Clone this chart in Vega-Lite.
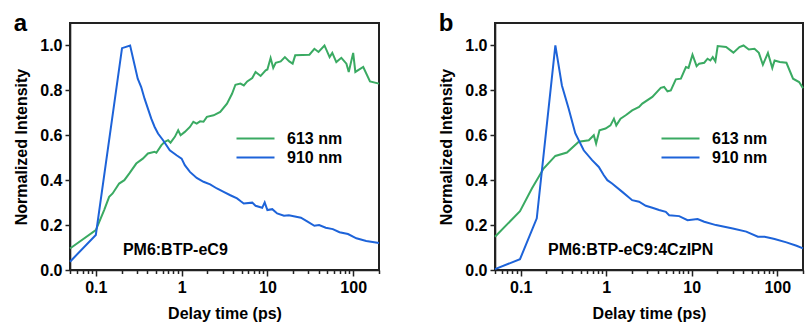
{
  "$schema": "https://vega.github.io/schema/vega-lite/v6.json",
  "background": "white",
  "padding": {"left": 12, "top": 11, "right": 6, "bottom": 4},
  "spacing": 53,
  "datasets": {
    "a": [
      {"series": "613 nm", "t": 0.05, "v": 0.096}, {"series": "613 nm", "t": 0.1, "v": 0.178}, {"series": "613 nm", "t": 0.125, "v": 0.267}, {"series": "613 nm", "t": 0.143, "v": 0.326}, {"series": "613 nm", "t": 0.157, "v": 0.341}, {"series": "613 nm", "t": 0.187, "v": 0.385}, {"series": "613 nm", "t": 0.215, "v": 0.4}, {"series": "613 nm", "t": 0.246, "v": 0.43}, {"series": "613 nm", "t": 0.296, "v": 0.474}, {"series": "613 nm", "t": 0.353, "v": 0.496}, {"series": "613 nm", "t": 0.405, "v": 0.519}, {"series": "613 nm", "t": 0.485, "v": 0.526}, {"series": "613 nm", "t": 0.508, "v": 0.522}, {"series": "613 nm", "t": 0.582, "v": 0.556}, {"series": "613 nm", "t": 0.637, "v": 0.571}, {"series": "613 nm", "t": 0.696, "v": 0.578}, {"series": "613 nm", "t": 0.743, "v": 0.567}, {"series": "613 nm", "t": 0.834, "v": 0.593}, {"series": "613 nm", "t": 0.912, "v": 0.622}, {"series": "613 nm", "t": 0.973, "v": 0.6}, {"series": "613 nm", "t": 1.09, "v": 0.615}, {"series": "613 nm", "t": 1.25, "v": 0.637}, {"series": "613 nm", "t": 1.37, "v": 0.66}, {"series": "613 nm", "t": 1.5, "v": 0.652}, {"series": "613 nm", "t": 1.64, "v": 0.662}, {"series": "613 nm", "t": 1.8, "v": 0.66}, {"series": "613 nm", "t": 1.97, "v": 0.682}, {"series": "613 nm", "t": 2.36, "v": 0.689}, {"series": "613 nm", "t": 2.82, "v": 0.704}, {"series": "613 nm", "t": 3.38, "v": 0.741}, {"series": "613 nm", "t": 3.87, "v": 0.785}, {"series": "613 nm", "t": 4.24, "v": 0.825}, {"series": "613 nm", "t": 4.85, "v": 0.83}, {"series": "613 nm", "t": 5.31, "v": 0.822}, {"series": "613 nm", "t": 5.82, "v": 0.84}, {"series": "613 nm", "t": 6.66, "v": 0.855}, {"series": "613 nm", "t": 7.28, "v": 0.882}, {"series": "613 nm", "t": 8.34, "v": 0.864}, {"series": "613 nm", "t": 9.55, "v": 0.889}, {"series": "613 nm", "t": 10.0, "v": 0.893}, {"series": "613 nm", "t": 10.9, "v": 0.944}, {"series": "613 nm", "t": 11.7, "v": 0.9}, {"series": "613 nm", "t": 12.5, "v": 0.923}, {"series": "613 nm", "t": 14.3, "v": 0.929}, {"series": "613 nm", "t": 16.0, "v": 0.948}, {"series": "613 nm", "t": 18.0, "v": 0.929}, {"series": "613 nm", "t": 19.7, "v": 0.919}, {"series": "613 nm", "t": 21.1, "v": 0.956}, {"series": "613 nm", "t": 30.9, "v": 0.959}, {"series": "613 nm", "t": 35.3, "v": 0.985}, {"series": "613 nm", "t": 39.4, "v": 0.971}, {"series": "613 nm", "t": 46.3, "v": 1.0}, {"series": "613 nm", "t": 53.1, "v": 0.948}, {"series": "613 nm", "t": 57.1, "v": 0.967}, {"series": "613 nm", "t": 63.6, "v": 0.926}, {"series": "613 nm", "t": 72.8, "v": 0.945}, {"series": "613 nm", "t": 83.4, "v": 0.919}, {"series": "613 nm", "t": 88.8, "v": 0.882}, {"series": "613 nm", "t": 100, "v": 0.967}, {"series": "613 nm", "t": 106, "v": 0.882}, {"series": "613 nm", "t": 131, "v": 0.904}, {"series": "613 nm", "t": 157, "v": 0.84}, {"series": "613 nm", "t": 200, "v": 0.83},
      {"series": "910 nm", "t": 0.05, "v": 0.037}, {"series": "910 nm", "t": 0.1, "v": 0.156}, {"series": "910 nm", "t": 0.202, "v": 0.988}, {"series": "910 nm", "t": 0.251, "v": 1.0}, {"series": "910 nm", "t": 0.308, "v": 0.852}, {"series": "910 nm", "t": 0.338, "v": 0.815}, {"series": "910 nm", "t": 0.37, "v": 0.763}, {"series": "910 nm", "t": 0.443, "v": 0.674}, {"series": "910 nm", "t": 0.485, "v": 0.637}, {"series": "910 nm", "t": 0.531, "v": 0.608}, {"series": "910 nm", "t": 0.608, "v": 0.578}, {"series": "910 nm", "t": 0.728, "v": 0.533}, {"series": "910 nm", "t": 0.873, "v": 0.511}, {"series": "910 nm", "t": 1.0, "v": 0.496}, {"series": "910 nm", "t": 1.09, "v": 0.467}, {"series": "910 nm", "t": 1.25, "v": 0.437}, {"series": "910 nm", "t": 1.5, "v": 0.41}, {"series": "910 nm", "t": 1.8, "v": 0.393}, {"series": "910 nm", "t": 2.15, "v": 0.381}, {"series": "910 nm", "t": 2.58, "v": 0.363}, {"series": "910 nm", "t": 3.09, "v": 0.348}, {"series": "910 nm", "t": 3.7, "v": 0.333}, {"series": "910 nm", "t": 4.43, "v": 0.319}, {"series": "910 nm", "t": 4.85, "v": 0.307}, {"series": "910 nm", "t": 5.3, "v": 0.296}, {"series": "910 nm", "t": 6.66, "v": 0.3}, {"series": "910 nm", "t": 7.28, "v": 0.286}, {"series": "910 nm", "t": 8.7, "v": 0.277}, {"series": "910 nm", "t": 9.3, "v": 0.301}, {"series": "910 nm", "t": 10.0, "v": 0.267}, {"series": "910 nm", "t": 11.4, "v": 0.271}, {"series": "910 nm", "t": 13.0, "v": 0.252}, {"series": "910 nm", "t": 15.6, "v": 0.242}, {"series": "910 nm", "t": 17.8, "v": 0.244}, {"series": "910 nm", "t": 24.6, "v": 0.233}, {"series": "910 nm", "t": 29.4, "v": 0.215}, {"series": "910 nm", "t": 35.3, "v": 0.197}, {"series": "910 nm", "t": 40.1, "v": 0.2}, {"series": "910 nm", "t": 47.9, "v": 0.188}, {"series": "910 nm", "t": 57.9, "v": 0.182}, {"series": "910 nm", "t": 69.3, "v": 0.168}, {"series": "910 nm", "t": 87, "v": 0.16}, {"series": "910 nm", "t": 109, "v": 0.141}, {"series": "910 nm", "t": 142, "v": 0.129}, {"series": "910 nm", "t": 200, "v": 0.12}
    ],
    "b": [
      {"series": "613 nm", "t": 0.05, "v": 0.148}, {"series": "613 nm", "t": 0.098, "v": 0.262}, {"series": "613 nm", "t": 0.135, "v": 0.363}, {"series": "613 nm", "t": 0.185, "v": 0.452}, {"series": "613 nm", "t": 0.254, "v": 0.508}, {"series": "613 nm", "t": 0.347, "v": 0.523}, {"series": "613 nm", "t": 0.477, "v": 0.571}, {"series": "613 nm", "t": 0.625, "v": 0.578}, {"series": "613 nm", "t": 0.715, "v": 0.6}, {"series": "613 nm", "t": 0.761, "v": 0.563}, {"series": "613 nm", "t": 0.834, "v": 0.622}, {"series": "613 nm", "t": 0.981, "v": 0.63}, {"series": "613 nm", "t": 1.12, "v": 0.644}, {"series": "613 nm", "t": 1.23, "v": 0.674}, {"series": "613 nm", "t": 1.31, "v": 0.644}, {"series": "613 nm", "t": 1.47, "v": 0.674}, {"series": "613 nm", "t": 1.69, "v": 0.689}, {"series": "613 nm", "t": 2.01, "v": 0.711}, {"series": "613 nm", "t": 2.42, "v": 0.726}, {"series": "613 nm", "t": 2.64, "v": 0.741}, {"series": "613 nm", "t": 3.46, "v": 0.771}, {"series": "613 nm", "t": 4.34, "v": 0.811}, {"series": "613 nm", "t": 4.75, "v": 0.815}, {"series": "613 nm", "t": 5.2, "v": 0.796}, {"series": "613 nm", "t": 5.69, "v": 0.8}, {"series": "613 nm", "t": 6.51, "v": 0.849}, {"series": "613 nm", "t": 7.46, "v": 0.852}, {"series": "613 nm", "t": 8.55, "v": 0.904}, {"series": "613 nm", "t": 9.17, "v": 0.9}, {"series": "613 nm", "t": 10.2, "v": 0.959}, {"series": "613 nm", "t": 11.4, "v": 0.908}, {"series": "613 nm", "t": 12.2, "v": 0.919}, {"series": "613 nm", "t": 14.0, "v": 0.923}, {"series": "613 nm", "t": 15.3, "v": 0.941}, {"series": "613 nm", "t": 16.5, "v": 0.933}, {"series": "613 nm", "t": 17.6, "v": 0.948}, {"series": "613 nm", "t": 18.9, "v": 0.929}, {"series": "613 nm", "t": 20.1, "v": 0.997}, {"series": "613 nm", "t": 25.2, "v": 0.993}, {"series": "613 nm", "t": 30.7, "v": 0.968}, {"series": "613 nm", "t": 36.1, "v": 0.993}, {"series": "613 nm", "t": 40.3, "v": 1.0}, {"series": "613 nm", "t": 46.5, "v": 0.982}, {"series": "613 nm", "t": 54.2, "v": 0.985}, {"series": "613 nm", "t": 60.9, "v": 0.967}, {"series": "613 nm", "t": 67.9, "v": 0.914}, {"series": "613 nm", "t": 77.8, "v": 0.967}, {"series": "613 nm", "t": 87.5, "v": 0.9}, {"series": "613 nm", "t": 93.1, "v": 0.933}, {"series": "613 nm", "t": 107, "v": 0.926}, {"series": "613 nm", "t": 128, "v": 0.923}, {"series": "613 nm", "t": 153, "v": 0.852}, {"series": "613 nm", "t": 180, "v": 0.837}, {"series": "613 nm", "t": 200, "v": 0.81},
      {"series": "910 nm", "t": 0.05, "v": 0.004}, {"series": "910 nm", "t": 0.098, "v": 0.048}, {"series": "910 nm", "t": 0.154, "v": 0.23}, {"series": "910 nm", "t": 0.254, "v": 1.0}, {"series": "910 nm", "t": 0.303, "v": 0.822}, {"series": "910 nm", "t": 0.363, "v": 0.719}, {"series": "910 nm", "t": 0.435, "v": 0.608}, {"series": "910 nm", "t": 0.545, "v": 0.533}, {"series": "910 nm", "t": 0.683, "v": 0.489}, {"series": "910 nm", "t": 0.818, "v": 0.459}, {"series": "910 nm", "t": 0.937, "v": 0.422}, {"series": "910 nm", "t": 1.03, "v": 0.4}, {"series": "910 nm", "t": 1.17, "v": 0.385}, {"series": "910 nm", "t": 1.54, "v": 0.348}, {"series": "910 nm", "t": 2.01, "v": 0.311}, {"series": "910 nm", "t": 2.42, "v": 0.304}, {"series": "910 nm", "t": 2.9, "v": 0.286}, {"series": "910 nm", "t": 3.46, "v": 0.277}, {"series": "910 nm", "t": 4.15, "v": 0.267}, {"series": "910 nm", "t": 4.97, "v": 0.259}, {"series": "910 nm", "t": 5.44, "v": 0.244}, {"series": "910 nm", "t": 7.13, "v": 0.24}, {"series": "910 nm", "t": 8.93, "v": 0.222}, {"series": "910 nm", "t": 11.7, "v": 0.227}, {"series": "910 nm", "t": 14.0, "v": 0.215}, {"series": "910 nm", "t": 19.2, "v": 0.2}, {"series": "910 nm", "t": 30.2, "v": 0.185}, {"series": "910 nm", "t": 43.4, "v": 0.171}, {"series": "910 nm", "t": 59.3, "v": 0.148}, {"series": "910 nm", "t": 71.1, "v": 0.148}, {"series": "910 nm", "t": 85.3, "v": 0.141}, {"series": "910 nm", "t": 93, "v": 0.138}, {"series": "910 nm", "t": 128, "v": 0.123}, {"series": "910 nm", "t": 168, "v": 0.108}, {"series": "910 nm", "t": 200, "v": 0.096}
    ]
  },
  "hconcat": [
    {
      "width": 309,
      "height": 247,
      "title": {"text": "a"},
      "layer": [
        {
          "data": {"name": "a"},
          "mark": {"type": "line", "strokeWidth": 2},
          "encoding": {
            "x": {"field": "t", "type": "quantitative", "scale": {"type": "log", "domain": [0.05, 200], "nice": false}, "title": "Delay time (ps)"},
            "y": {"field": "v", "type": "quantitative", "scale": {"domain": [0, 1.1], "nice": false}, "title": "Normalized Intensity"},
            "color": {"field": "series", "type": "nominal", "scale": {"domain": ["613 nm", "910 nm"], "range": ["#3aaa62", "#1d63d9"]}, "legend": {"orient": "none", "legendX": 175, "legendY": 105, "symbolType": "M-2,0H2", "symbolSize": 361}},
            "order": {"field": "t", "type": "quantitative"}
          }
        },
        {
          "data": {"values": [{"label": "PM6:BTP-eC9"}]},
          "mark": {"type": "text", "font": "Liberation Sans", "fontWeight": "bold", "fontSize": 16, "align": "center", "baseline": "middle", "color": "black"},
          "encoding": {
            "x": {"datum": 0.845, "type": "quantitative"},
            "y": {"datum": 0.09, "type": "quantitative"},
            "text": {"field": "label"}
          }
        }
      ]
    },
    {
      "width": 308,
      "height": 247,
      "title": {"text": "b"},
      "layer": [
        {
          "data": {"name": "b"},
          "mark": {"type": "line", "strokeWidth": 2},
          "encoding": {
            "x": {"field": "t", "type": "quantitative", "scale": {"type": "log", "domain": [0.05, 200], "nice": false}, "title": "Delay time (ps)"},
            "y": {"field": "v", "type": "quantitative", "scale": {"domain": [0, 1.1], "nice": false}, "title": "Normalized Intensity"},
            "color": {"field": "series", "type": "nominal", "scale": {"domain": ["613 nm", "910 nm"], "range": ["#3aaa62", "#1d63d9"]}, "legend": {"orient": "none", "legendX": 175, "legendY": 105, "symbolType": "M-2,0H2", "symbolSize": 361}},
            "order": {"field": "t", "type": "quantitative"}
          }
        },
        {
          "data": {"values": [{"label": "PM6:BTP-eC9:4CzIPN"}]},
          "mark": {"type": "text", "font": "Liberation Sans", "fontWeight": "bold", "fontSize": 16, "align": "center", "baseline": "middle", "color": "black"},
          "encoding": {
            "x": {"datum": 1.93, "type": "quantitative"},
            "y": {"datum": 0.09, "type": "quantitative"},
            "text": {"field": "label"}
          }
        }
      ]
    }
  ],
  "resolve": {"scale": {"color": "independent"}, "legend": {"color": "independent"}},
  "config": {
    "font": "Liberation Sans",
    "view": {"stroke": "#222222", "strokeWidth": 2, "strokeOpacity": 1},
    "style": {"cell": {"stroke": "#222222", "strokeWidth": 2, "strokeOpacity": 1}},
    "title": {"anchor": "start", "frame": "bounds", "fontSize": 24, "fontWeight": "bold", "font": "Liberation Sans", "color": "black", "offset": -13, "baseline": "alphabetic"},
    "axis": {
      "domainColor": "#222222", "domainWidth": 1.6, "tickColor": "#222222", "tickWidth": 1.5,
      "labelFont": "Liberation Sans", "labelFontWeight": "bold", "labelFontSize": 16, "labelColor": "black", "labelPadding": 3,
      "titleFont": "Liberation Sans", "titleFontWeight": "bold", "titleFontSize": 16, "titleColor": "black",
      "grid": false, "labelOverlap": false, "labelFlush": false
    },
    "axisX": {
      "values": [0.05, 0.06, 0.07, 0.08, 0.09, 0.1, 0.2, 0.3, 0.4, 0.5, 0.6, 0.7, 0.8, 0.9, 1, 2, 3, 4, 5, 6, 7, 8, 9, 10, 20, 30, 40, 50, 60, 70, 80, 90, 100, 200],
      "labelExpr": "indexof([0.1, 1, 10, 100], datum.value) >= 0 ? format(datum.value, '~g') : ''",
      "tickSize": {"condition": {"test": "indexof([0.1, 1, 10, 100], datum.value) >= 0", "value": 6}, "value": 3.5},
      "titlePadding": 10
    },
    "axisY": {
      "values": [0, 0.2, 0.4, 0.6, 0.8, 1.0],
      "format": ".1f",
      "tickSize": 5,
      "titlePadding": 10
    },
    "legend": {
      "title": null,
      "symbolStrokeWidth": 2,
      "labelFont": "Liberation Sans",
      "labelFontWeight": "bold",
      "labelFontSize": 16,
      "labelColor": "black",
      "labelOffset": 21,
      "rowPadding": 0
    }
  }
}
